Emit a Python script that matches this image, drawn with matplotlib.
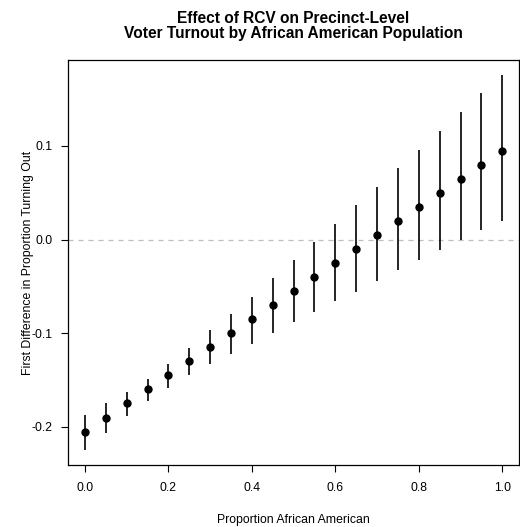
import numpy as np
import matplotlib
matplotlib.use("Agg")
import matplotlib.pyplot as plt

plt.rcParams['font.family'] = ['Liberation Sans', 'DejaVu Sans']

# proportion African American
prop_aa = [0.0, 0.05, 0.1, 0.15, 0.2, 0.25, 0.3, 0.35, 0.4, 0.45, 0.5,
           0.55, 0.6, 0.65, 0.7, 0.75, 0.8, 0.85, 0.9, 0.95, 1.0]
# first difference estimates
fd_mean = [-0.205, -0.190, -0.175, -0.160, -0.145, -0.130, -0.115, -0.100, -0.085, -0.070, -0.055,
           -0.040, -0.025, -0.010, 0.005, 0.020, 0.035, 0.050, 0.065, 0.080, 0.095]
fd_lower = [-0.225, -0.207, -0.188, -0.172, -0.158, -0.145, -0.133, -0.122, -0.111, -0.100, -0.088,
            -0.077, -0.066, -0.056, -0.044, -0.033, -0.022, -0.011, 0.000, 0.010, 0.020]
fd_upper = [-0.187, -0.175, -0.163, -0.149, -0.133, -0.116, -0.097, -0.079, -0.061, -0.041, -0.022,
            -0.003, 0.017, 0.037, 0.056, 0.076, 0.096, 0.116, 0.136, 0.156, 0.176]

fig = plt.figure(figsize=(5.2, 5.27), dpi=100)
ax = fig.add_axes([0.1313, 0.1176, 0.8667, 0.7684])

ax.axhline(0, color='#bebebe', lw=0.9, ls=(0, (4, 4)), zorder=1)
ax.vlines(prop_aa, fd_lower, fd_upper, color='black', lw=1.2, zorder=2)
ax.plot(prop_aa, fd_mean, 'o', color='black', ms=5, zorder=3)

ax.set_xlim(-0.04, 1.04)
ax.set_ylim(-0.2407, 0.1916)
ax.set_xticks([0.0, 0.2, 0.4, 0.6, 0.8, 1.0])
ax.set_xticklabels(['0.0', '0.2', '0.4', '0.6', '0.8', '1.0'])
ax.set_yticks([-0.2, -0.1, 0.0, 0.1])
ax.set_yticklabels(['-0.2', '-0.1', '0.0', '0.1'])
ax.tick_params(length=5, width=0.8, labelsize=8.8, colors='black')
ax.tick_params(axis='x', pad=7)
ax.tick_params(axis='y', pad=6)
for s in ax.spines.values():
    s.set_linewidth(0.9)

ax.set_xlabel('Proportion African American', fontsize=8.8, va='center')
ax.xaxis.set_label_coords(0.5, -0.136)
ax.set_ylabel('First Difference in Proportion Turning Out', fontsize=8.8, va='center')
ax.yaxis.set_label_coords(-0.09, 0.5)
fig.text(0.5644, 1 - 26 / 527,
         'Effect of RCV on Precinct-Level\nVoter Turnout by African American Population',
         ha='center', va='center', fontsize=11.2, fontweight='bold', linespacing=1.05)

fig.savefig('out.png', dpi=100)
